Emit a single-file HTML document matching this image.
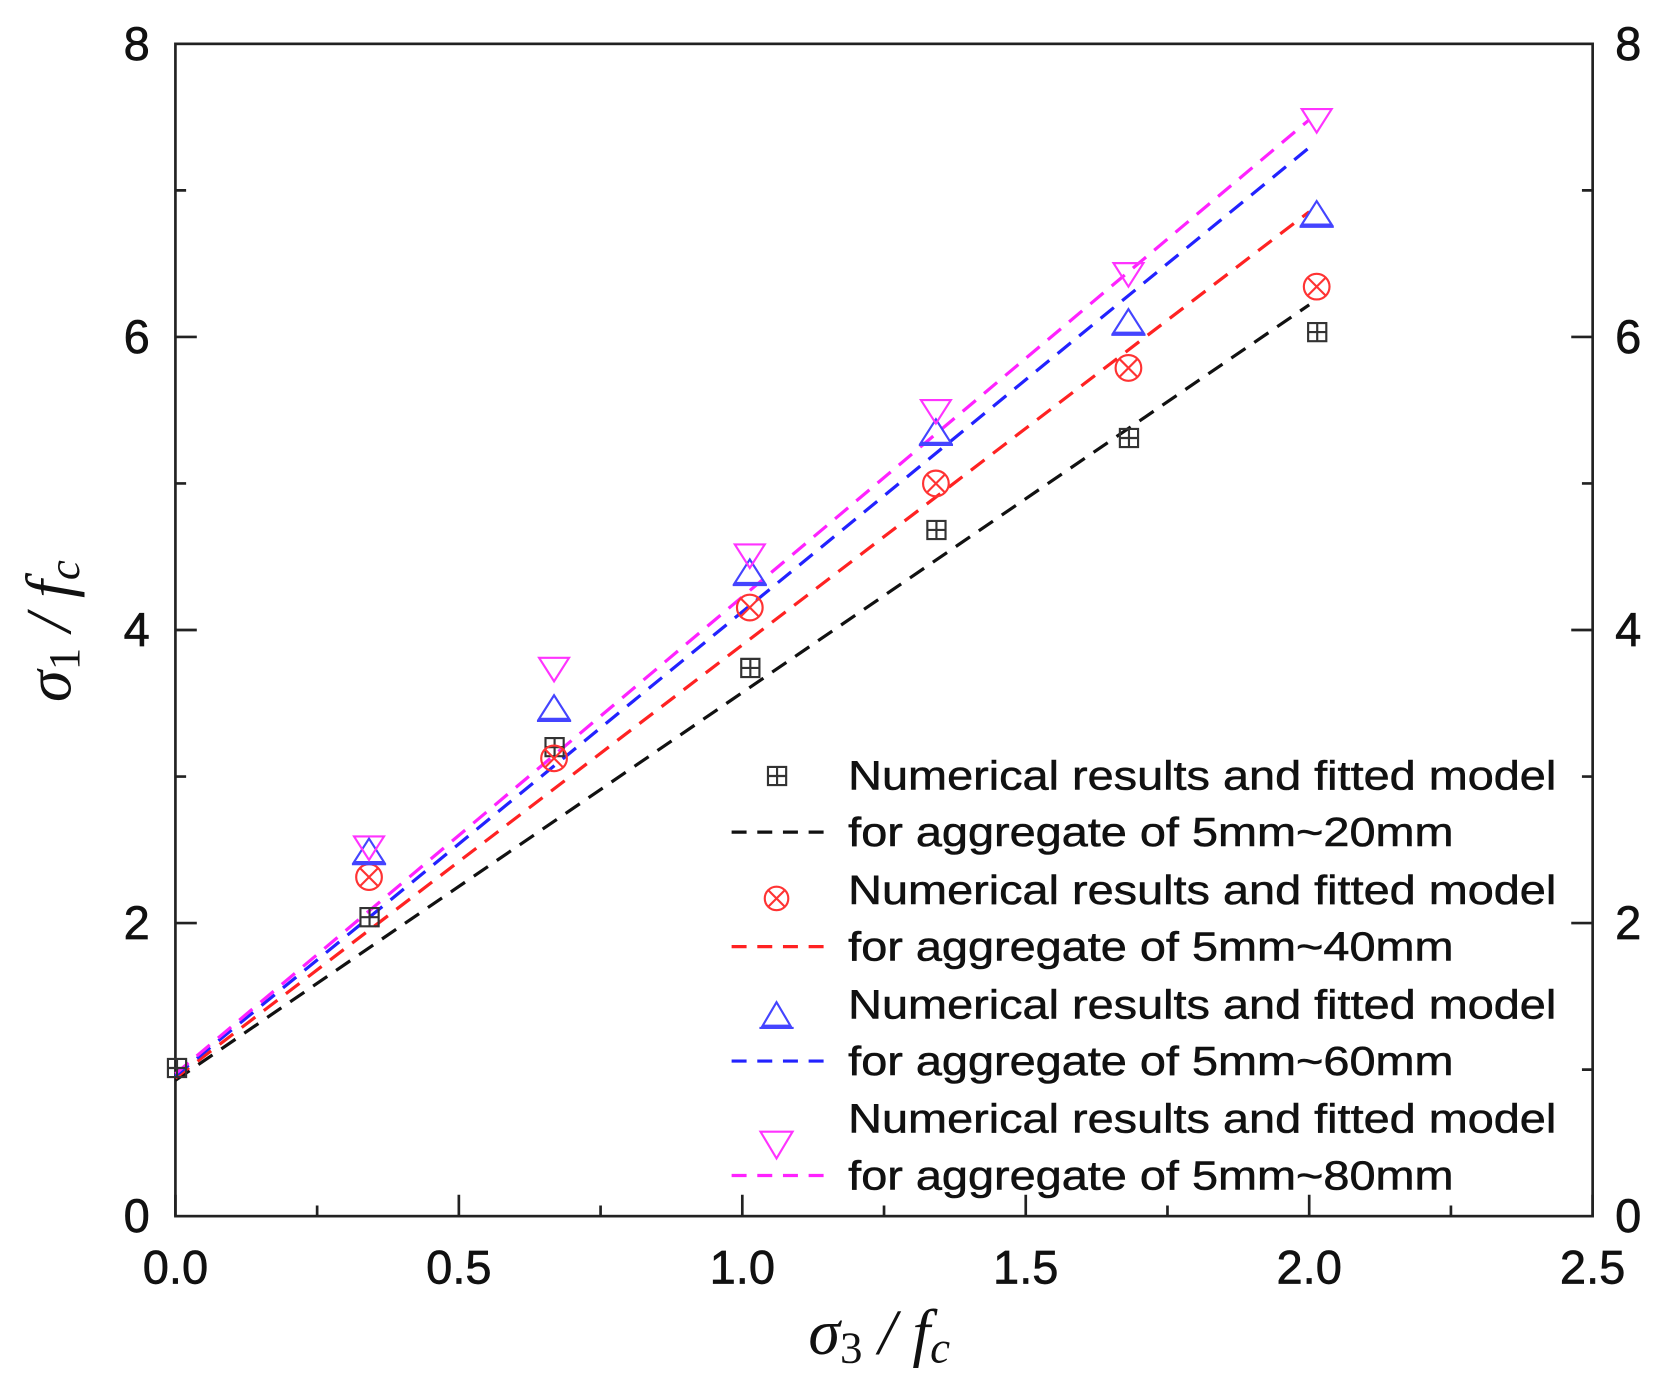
<!DOCTYPE html>
<html><head><style>html,body{margin:0;padding:0;background:#fff}svg{display:block}</style></head><body>
<svg width="1675" height="1383" viewBox="0 0 1566 1293" xmlns="http://www.w3.org/2000/svg" font-family="Liberation Sans, sans-serif">
<rect width="1566" height="1293" fill="#fff"/>
<g stroke="#222" stroke-width="2.5" fill="none">
<rect x="164" y="41" width="1325" height="1096"/>
<path d="M164,1137v-20M429,1137v-20M694,1137v-20M959,1137v-20M1224,1137v-20M1489,1137v-20
M296.5,1137v-10M561.5,1137v-10M826.5,1137v-10M1091.5,1137v-10M1356.5,1137v-10"/>
<path d="M164,863h20M164,589h20M164,315h20M164,1000h10M164,726h10M164,452h10M164,178h10"/>
<path d="M1489,863h-20M1489,589h-20M1489,315h-20M1489,1000h-10M1489,726h-10M1489,452h-10M1489,178h-10"/>
</g>
<g font-size="44" fill="#111" stroke="#111" stroke-width="0.6">
<text x="140" y="1152" text-anchor="end">0</text>
<text x="140" y="878" text-anchor="end">2</text>
<text x="140" y="604" text-anchor="end">4</text>
<text x="140" y="330" text-anchor="end">6</text>
<text x="140" y="56" text-anchor="end">8</text>
<text x="1510" y="1152">0</text>
<text x="1510" y="878">2</text>
<text x="1510" y="604">4</text>
<text x="1510" y="330">6</text>
<text x="1510" y="56">8</text>
<text x="164" y="1200" text-anchor="middle">0.0</text>
<text x="429" y="1200" text-anchor="middle">0.5</text>
<text x="694" y="1200" text-anchor="middle">1.0</text>
<text x="959" y="1200" text-anchor="middle">1.5</text>
<text x="1224" y="1200" text-anchor="middle">2.0</text>
<text x="1489" y="1200" text-anchor="middle">2.5</text>
</g>
<text x="822" y="1266" text-anchor="middle" font-family="Liberation Serif, serif" font-style="italic" font-size="60" fill="#111">σ<tspan font-style="normal" font-size="42" dy="8">3</tspan><tspan dy="-8"> / </tspan><tspan>f</tspan><tspan font-size="42" dy="8">c</tspan></text>
<text transform="translate(66,590) rotate(-90)" text-anchor="middle" font-family="Liberation Serif, serif" font-style="italic" font-size="60" fill="#111">σ<tspan font-style="normal" font-size="42" dy="8">1</tspan><tspan dy="-8"> / </tspan><tspan>f</tspan><tspan font-size="42" dy="8">c</tspan></text>
<g fill="none" stroke-width="3" stroke-dasharray="16,10">
<path stroke="#111" d="M164,1010 L1224,285"/>
<path stroke="#f22" d="M164,1008 L1224,198"/>
<path stroke="#22f" d="M164,1006 L1224,138"/>
<path stroke="#f2f" d="M164,1004 L1224,112"/>
</g>
<g fill="none" stroke-width="2">
<g stroke="#333">
<path d="M157,990h17v17h-17zM165.5,990v17M157,998.5h17"/>
<path d="M337,849h17v17h-17zM345.5,849v17M337,857.5h17"/>
<path d="M510,690h17v17h-17zM518.5,690v17M510,698.5h17"/>
<path d="M693,616h17v17h-17zM701.5,616v17M693,624.5h17"/>
<path d="M867,487h17v17h-17zM875.5,487v17M867,495.5h17"/>
<path d="M1047,401h17v17h-17zM1055.5,401v17M1047,409.5h17"/>
<path d="M1223,302h17v17h-17zM1231.5,302v17M1223,310.5h17"/>
<path d="M718,717h17v17h-17zM726.5,717v17M718,725.5h17"/>
</g>
<g stroke="#f33">
<circle cx="345" cy="820" r="12"/><path d="M336,811l18,18M354,811l-18,18"/>
<circle cx="518" cy="709" r="12"/><path d="M509,700l18,18M527,700l-18,18"/>
<circle cx="701" cy="568" r="12"/><path d="M692,559l18,18M710,559l-18,18"/>
<circle cx="875" cy="452" r="12"/><path d="M866,443l18,18M884,443l-18,18"/>
<circle cx="1055" cy="344" r="12"/><path d="M1046,335l18,18M1064,335l-18,18"/>
<circle cx="1231" cy="268" r="12"/><path d="M1222,259l18,18M1240,259l-18,18"/>
<circle cx="726" cy="840" r="11"/><path d="M718,832l16,16M734,832l-16,16"/>
</g>
<g stroke="#44f">
<path d="M345,784l-14,22h28zM329,808h32"/>
<path d="M518,650l-14,22h28zM502,674h32"/>
<path d="M701,523l-14,22h28zM685,547h32"/>
<path d="M875,392l-14,22h28zM859,416h32"/>
<path d="M1055,289l-14,22h28zM1039,313h32"/>
<path d="M1231,188l-14,22h28zM1215,212h32"/>
<path d="M726,937l-13,22h26zM710,961h32"/>
</g>
<g stroke="#f3f">
<path d="M331,782h28l-14,22z"/>
<path d="M504,615h28l-14,22z"/>
<path d="M687,509h28l-14,22z"/>
<path d="M861,374h28l-14,22z"/>
<path d="M1041,246h28l-14,22z"/>
<path d="M1217,102h28l-14,22z"/>
<path d="M711,1058h30l-15,25z"/>
</g>
</g>
<g stroke-width="3" stroke-dasharray="14,10">
<path stroke="#111" d="M684,778h90"/>
<path stroke="#f22" d="M684,885h90"/>
<path stroke="#22f" d="M684,992h90"/>
<path stroke="#f2f" d="M684,1099h90"/>
</g>
<g font-size="38" fill="#111" stroke="#111" stroke-width="0.5">
<text x="793" y="738" textLength="662" lengthAdjust="spacingAndGlyphs">Numerical results and fitted model</text>
<text x="793" y="791" textLength="566" lengthAdjust="spacingAndGlyphs">for aggregate of 5mm~20mm</text>
<text x="793" y="845" textLength="662" lengthAdjust="spacingAndGlyphs">Numerical results and fitted model</text>
<text x="793" y="898" textLength="566" lengthAdjust="spacingAndGlyphs">for aggregate of 5mm~40mm</text>
<text x="793" y="952" textLength="662" lengthAdjust="spacingAndGlyphs">Numerical results and fitted model</text>
<text x="793" y="1005" textLength="566" lengthAdjust="spacingAndGlyphs">for aggregate of 5mm~60mm</text>
<text x="793" y="1059" textLength="662" lengthAdjust="spacingAndGlyphs">Numerical results and fitted model</text>
<text x="793" y="1112" textLength="566" lengthAdjust="spacingAndGlyphs">for aggregate of 5mm~80mm</text>
</g>
</svg>
</body></html>
